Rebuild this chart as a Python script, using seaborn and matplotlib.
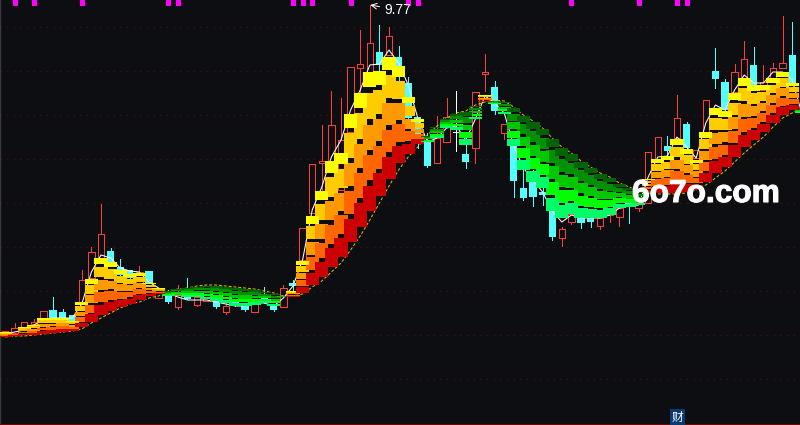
import numpy as np
import pandas as pd
import matplotlib
matplotlib.use("Agg")
import matplotlib.pyplot as plt
import matplotlib.patheffects as pe
import seaborn as sns

# ── Data (price per bar) ───────────────────────────────────────────────────────

open_price = [6.46, 6.49, 6.55, 6.58, 6.64, 6.71, 6.69, 6.66, 6.79, 7.04, 7.24, 7.30, 7.14, 7.11, 6.97, 7.10, 6.84,
              6.86, 6.75, 6.85, 6.77, 6.81, 6.82, 6.70, 6.82, 6.76, 6.70, 6.85, 6.76, 6.75, 6.98, 7.22, 7.69, 8.19,
              8.12, 7.92, 8.50, 9.14, 9.10, 9.29, 9.27, 9.24, 8.98, 8.64, 8.40, 8.19, 8.40, 8.49, 8.27, 8.34, 9.08,
              8.94, 8.49, 8.36, 7.93, 8.00, 7.89, 7.71, 7.44, 7.60, 7.64, 7.63, 7.56, 7.67, 7.65, 7.82, 7.74, 7.79,
              8.20, 8.35, 8.44, 8.57, 8.24, 8.49, 9.10, 8.99, 8.90, 9.04, 9.16, 8.92, 9.04, 9.14, 9.26, 8.73]
close_price = [6.51, 6.54, 6.60, 6.60, 6.71, 6.64, 6.63, 6.60, 7.02, 7.30, 7.48, 7.20, 7.07, 7.04, 7.10, 6.99, 6.94,
               6.80, 6.88, 6.83, 6.85, 6.88, 6.75, 6.76, 6.76, 6.72, 6.78, 6.79, 6.72, 6.94, 6.96, 7.54, 8.18, 8.21,
               8.57, 8.42, 9.15, 9.18, 9.39, 9.17, 9.46, 9.09, 8.64, 8.42, 8.16, 8.44, 8.65, 8.49, 8.20, 8.90, 9.10,
               8.71, 8.58, 8.01, 7.84, 7.85, 7.87, 7.45, 7.53, 7.68, 7.59, 7.60, 7.64, 7.77, 7.74, 7.76, 7.80, 8.30,
               8.45, 8.31, 8.64, 8.34, 8.32, 8.82, 9.03, 8.72, 9.10, 9.23, 8.97, 9.00, 9.14, 9.19, 8.99, 8.70]
high_price = [6.51, 6.59, 6.60, 6.63, 6.71, 6.85, 6.73, 6.66, 7.12, 7.35, 7.78, 7.34, 7.23, 7.11, 7.16, 7.10, 6.94,
              6.92, 6.97, 7.04, 6.85, 6.88, 6.82, 6.79, 6.82, 6.76, 6.78, 6.95, 6.76, 6.97, 7.02, 7.54, 8.18, 8.57,
              8.91, 8.84, 9.15, 9.52, 9.77, 9.57, 9.55, 9.36, 9.05, 8.64, 8.49, 8.66, 8.84, 8.91, 8.37, 8.90, 9.28,
              9.01, 8.58, 8.36, 8.12, 8.12, 7.95, 7.71, 7.55, 7.68, 7.64, 7.63, 7.64, 7.77, 7.74, 7.82, 7.80, 8.30,
              8.45, 8.46, 8.87, 8.60, 8.32, 8.82, 9.34, 9.03, 9.18, 9.41, 9.35, 9.17, 9.19, 9.66, 9.60, 8.74]
low_price = [6.46, 6.49, 6.55, 6.57, 6.64, 6.64, 6.63, 6.60, 6.79, 7.04, 7.24, 7.20, 7.07, 7.04, 6.97, 6.99, 6.84,
             6.79, 6.73, 6.83, 6.76, 6.81, 6.74, 6.68, 6.76, 6.71, 6.70, 6.79, 6.71, 6.75, 6.92, 7.22, 7.69, 7.92,
             8.12, 7.92, 8.50, 8.89, 9.10, 9.12, 9.27, 9.00, 8.64, 8.34, 8.15, 8.19, 8.40, 8.31, 8.14, 8.19, 8.91,
             8.68, 8.43, 7.85, 7.82, 7.76, 7.77, 7.42, 7.36, 7.58, 7.54, 7.55, 7.53, 7.60, 7.56, 7.59, 7.71, 7.79,
             8.20, 8.24, 8.42, 8.34, 8.24, 8.49, 8.94, 8.72, 8.90, 9.04, 8.97, 8.92, 9.04, 9.14, 8.99, 8.69]

ribbon_top = [6.50, 6.50, 6.55, 6.57, 6.64, 6.64, 6.64, 6.61, 6.80, 7.03, 7.24, 7.20, 7.12, 7.08, 7.09, 6.99, 6.94,
              6.91, 6.93, 6.94, 6.95, 6.96, 6.96, 6.95, 6.94, 6.93, 6.92, 6.90, 6.88, 6.86, 6.91, 7.21, 7.66, 7.91,
              8.21, 8.29, 8.68, 8.89, 9.10, 9.11, 9.25, 9.16, 8.85, 8.63, 8.46, 8.55, 8.63, 8.68, 8.70, 8.76, 8.87,
              8.81, 8.80, 8.74, 8.66, 8.60, 8.53, 8.43, 8.34, 8.28, 8.20, 8.14, 8.08, 8.04, 7.98, 7.94, 7.90, 8.03,
              8.23, 8.26, 8.43, 8.33, 8.22, 8.50, 8.74, 8.71, 8.89, 9.04, 8.97, 8.97, 9.04, 9.10, 8.99, 8.74]
ribbon_bottom = [6.45, 6.46, 6.47, 6.47, 6.48, 6.49, 6.50, 6.51, 6.55, 6.60, 6.67, 6.71, 6.75, 6.78, 6.82, 6.86, 6.88,
                 6.86, 6.86, 6.85, 6.85, 6.83, 6.81, 6.79, 6.76, 6.76, 6.77, 6.79, 6.76, 6.85, 6.85, 6.89, 6.97, 7.05,
                 7.15, 7.25, 7.40, 7.55, 7.71, 7.86, 8.03, 8.19, 8.28, 8.38, 8.40, 8.44, 8.54, 8.52, 8.37, 8.63, 8.80,
                 8.78, 8.68, 8.36, 8.12, 8.00, 7.94, 7.71, 7.64, 7.68, 7.64, 7.64, 7.64, 7.67, 7.74, 7.75, 7.77, 7.90,
                 7.89, 7.89, 7.89, 7.90, 7.92, 8.00, 8.09, 8.15, 8.25, 8.35, 8.42, 8.50, 8.59, 8.67, 8.72, 8.69]

ma_fast = [6.48, 6.50, 6.52, 6.57, 6.62, 6.64, 6.64, 6.64, 6.78, 7.10, 7.27, 7.24, 7.14, 7.11, 7.10, 7.00, 6.94,
           6.89, 6.85, 6.82, 6.82, 6.82, 6.80, 6.78, 6.76, 6.76, 6.79, 6.79, 6.76, 6.84, 6.96, 7.22, 7.72, 7.95,
           8.25, 8.42, 8.72, 8.92, 9.17, 9.18, 9.32, 9.19, 8.97, 8.64, 8.40, 8.44, 8.54, 8.56, 8.42, 8.63, 8.86,
           8.79, 8.69, 8.36, 8.14, 8.02, 7.90, 7.71, 7.60, 7.67, 7.64, 7.64, 7.64, 7.67, 7.74, 7.76, 7.77, 8.05,
           8.25, 8.26, 8.45, 8.35, 8.24, 8.59, 8.77, 8.72, 8.92, 9.07, 8.99, 8.99, 9.10, 9.10, 9.02, 8.69]
ma_slow = [6.45, 6.46, 6.46, 6.47, 6.48, 6.49, 6.50, 6.51, 6.53, 6.59, 6.64, 6.69, 6.74, 6.78, 6.80, 6.84, 6.86,
           6.91, 6.93, 6.94, 6.96, 6.97, 6.97, 6.96, 6.95, 6.94, 6.93, 6.91, 6.89, 6.86, 6.86, 6.88, 6.95, 7.01,
           7.10, 7.19, 7.32, 7.46, 7.62, 7.79, 7.96, 8.12, 8.25, 8.35, 8.47, 8.56, 8.64, 8.69, 8.71, 8.77, 8.80,
           8.82, 8.81, 8.75, 8.67, 8.61, 8.54, 8.44, 8.35, 8.29, 8.21, 8.15, 8.09, 8.05, 7.99, 7.95, 7.91, 7.89,
           7.88, 7.88, 7.88, 7.89, 7.92, 7.97, 8.04, 8.11, 8.20, 8.29, 8.37, 8.45, 8.55, 8.64, 8.69, 8.74]

signal_bars = [1, 3, 8, 17, 18, 30, 31, 32, 36, 42, 43, 59, 66, 70, 71]
grid_levels = [6.03, 6.47, 6.91, 7.35, 7.79, 8.23, 8.67, 9.11, 9.55]
peak_label = "9.77"
watermark = "6o7o.com"
badge = "财"

# ── Style ──────────────────────────────────────────────────────────────────────

BG = "#0d0e12"
RED = "#ff3c3c"
CYAN = "#54ffff"
BULL_BANDS = ["#cc0000", "#ff6600", "#ff9900", "#ffcc00", "#ffff00"]
BEAR_BANDS = ["#00ff66", "#00ff00", "#00c800", "#009000", "#006400"]
BAND_EDGES = [(0.00, 0.18), (0.22, 0.40), (0.44, 0.62), (0.66, 0.85), (0.89, 1.00)]
DRAW_ORDER = [3, 2, 1, 4, 0]
THIN = 0.5

sns.set_theme(style="dark", rc={"axes.facecolor": BG, "figure.facecolor": BG})

fig = plt.figure(figsize=(8, 4.25), dpi=100)
ax = fig.add_axes([0, 0, 1, 1])

df = pd.DataFrame({
    "bar": np.arange(len(close_price)),
    "open": open_price, "close": close_price, "high": high_price, "low": low_price,
    "top": ribbon_top, "bottom": ribbon_bottom, "fast": ma_fast, "slow": ma_slow,
})
df["bull"] = df["fast"] > df["slow"]

# Grid
ax.set_yticks(grid_levels)
ax.set_xticks([])
ax.tick_params(length=0, labelleft=False)
ax.grid(axis="y", color="#521010", linestyle=(0, (1, 5)), linewidth=0.8)
ax.set_axisbelow(True)

# Candles
candle_color = np.where(df["close"] > df["open"], RED, np.where(df["close"] < df["open"], CYAN, "#ffffff"))
ax.vlines(df["bar"], df["low"], df["high"], colors=candle_color, linewidth=THIN, antialiased=False, zorder=2)
is_up = (df["close"] > df["open"]).to_numpy()
body_low = df[["open", "close"]].min(axis=1)
body_high = df[["open", "close"]].max(axis=1)
ax.bar(df["bar"][is_up], (body_high - body_low)[is_up], bottom=body_low[is_up], width=0.68,
       facecolor=BG, edgecolor=RED, linewidth=THIN, antialiased=False, zorder=3)
ax.bar(df["bar"][~is_up], (body_high - body_low)[~is_up] + 0.01, bottom=body_low[~is_up], width=0.76,
       color=candle_color[~is_up], linewidth=0, antialiased=False, zorder=3)

# Moving averages
sns.lineplot(data=df, x="bar", y="fast", estimator=None, color="white", linewidth=0.75, legend=False, ax=ax, zorder=4)
sns.lineplot(data=df, x="bar", y="slow", estimator=None, color="#d8c800", linewidth=0.7, linestyle=(0, (3, 2)),
             legend=False, ax=ax, zorder=4)

# Ribbon, one stack of bands per bar, neighbours overlap a little
span = df["top"] - df["bottom"]
for k in DRAW_ORDER:
    lo, hi = BAND_EDGES[k]
    colors = np.where(df["bull"], BULL_BANDS[k], BEAR_BANDS[k])
    ax.bar(df["bar"], span * (hi - lo), bottom=df["bottom"] + span * lo, width=1.36, color=colors,
           linewidth=0, antialiased=False, zorder=5 + 0.1 * DRAW_ORDER.index(k))

# Signal ticks along the top edge
ax.vlines(signal_bars, 1 - 5 / 425, 1, transform=ax.get_xaxis_transform(), colors="#ff00ff", linewidth=2.4,
          antialiased=False, zorder=7)

# Peak label
ax.annotate(peak_label, xy=(df["high"].idxmax() + 0.05, 9.77), xytext=(10, -3.5), textcoords="offset points",
            color="white", fontsize=10, family="Liberation Sans", va="center", zorder=8,
            arrowprops=dict(arrowstyle="->", color="white", linewidth=0.7, shrinkA=1, shrinkB=0))

# Watermark
ax.text(632 / 800, 1 - 202 / 425, watermark, transform=ax.transAxes, color="white", fontsize=22.8,
        family="Liberation Sans", fontweight="bold", va="baseline", ha="left", zorder=9,
        path_effects=[pe.withStroke(linewidth=0.8, foreground="white")])

# Badge
ax.text(677.5 / 800, 1 - 417 / 425, badge, transform=ax.transAxes, color="white", fontsize=8.5,
        family=["Noto Sans CJK SC", "DejaVu Sans"], ha="center", va="center", zorder=9,
        bbox=dict(boxstyle="square,pad=0.12", facecolor="#0a3a70", edgecolor="none"))

ax.set_xlim(-5 / 9.6, 795 / 9.6)
ax.set_ylim(5.57, 9.82)
ax.set_xlabel("")
ax.set_ylabel("")
for side in ["top", "right"]:
    ax.spines[side].set_visible(False)
ax.spines["left"].set_color("#3a3a3a")
ax.spines["bottom"].set_color("#6a0808")
ax.spines["left"].set_linewidth(1.0)
ax.spines["bottom"].set_linewidth(1.6)

fig.savefig("out.png", dpi=100, facecolor=BG)
